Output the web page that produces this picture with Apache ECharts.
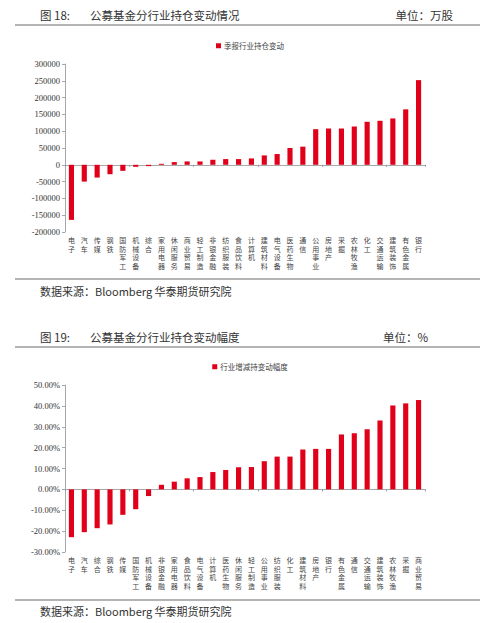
<!DOCTYPE html>
<html><head><meta charset="utf-8">
<script src="https://cdn.jsdelivr.net/npm/echarts@6/dist/echarts.min.js"></script>
<style>html,body{margin:0;padding:0;background:#fff}#c{width:500px;height:623px}</style>
</head><body><div id="c"></div>
<script>
const categories1 = ['电子','汽车','传媒','钢铁','国防军工','机械设备','综合','家用电器','休闲服务','商业贸易','轻工制造','非银金融','纺织服装','食品饮料','计算机','建筑材料','电气设备','医药生物','通信','公用事业','房地产','采掘','农林牧渔','化工','交通运输','建筑装饰','有色金属','银行'];
const values1 = [-164000,-50000,-38000,-28000,-18000,-6000,-4000,3000,8000,10000,10000,15000,17000,17000,19000,28000,32000,50000,54000,106000,108000,108000,114000,128000,131000,138000,165000,252000];
const categories2 = ['电子','汽车','综合','钢铁','传媒','国防军工','机械设备','非银金融','家用电器','食品饮料','电气设备','计算机','医药生物','休闲服务','轻工制造','公用事业','纺织服装','化工','建筑材料','房地产','银行','有色金属','通信','交通运输','建筑装饰','农林牧渔','采掘','商业贸易'];
const values2 = [-22.9,-20.5,-18.6,-16.8,-12.2,-9.5,-3.2,2.2,3.7,5.3,5.9,8.3,9.3,10.6,10.7,13.5,15.7,15.7,19.1,19.4,19.4,26.3,26.9,28.8,33.0,40.2,41.2,42.8];
const series1Name = '季报行业持仓变动';
const series2Name = '行业增减持变动幅度';

const RED = '#E1001A';
const serif = '"Liberation Serif","DejaVu Serif",serif';
const cjk = '"Noto Sans CJK SC",sans-serif';
const vert = v => v.split('').join('\n');

function xAxes(grid, cats) {
  return [
    { type:'category', gridIndex:grid, data:cats, position:'bottom',
      axisLine:{show:false,onZero:false}, axisTick:{show:false},
      axisLabel:{formatter:vert, fontFamily:cjk, fontSize:7, lineHeight:8.5, color:'#444', margin:4, interval:0, verticalAlign:'top'} },
    { type:'category', gridIndex:grid, data:cats, position:'bottom',
      axisLine:{show:true,onZero:true,lineStyle:{color:'#a8a8a8',width:1}},
      axisTick:{show:true,length:2,lineStyle:{color:'#8a9ab0'}}, axisLabel:{show:false} }
  ];
}
function yAxis(grid, min, max, interval, fmt) {
  return { type:'value', gridIndex:grid, min, max, interval,
    axisLine:{show:true,lineStyle:{color:'#a8a8a8'}},
    axisTick:{show:true,length:3,lineStyle:{color:'#a8a8a8'}},
    splitLine:{show:false},
    axisLabel:{formatter:fmt, fontFamily:serif, fontSize:8.5, color:'#333', margin:5} };
}
const chart = echarts.init(document.getElementById('c'), null, {renderer:'svg'});
const txt = (x,y,t,size,align) => ({type:'text', x, y, style:{text:t, font:`${size}px ${cjk}`, fill:'#333', textAlign:align||'left', textVerticalAlign:'middle'}});
const line = (y) => ({type:'line', shape:{x1:15,y1:y,x2:480,y2:y}, style:{stroke:'#b4b4b4', lineWidth:2}});
chart.setOption({
  animation:false,
  grid:[
    {left:65, right:75, top:64, height:168},
    {left:65, right:75, top:385, height:167}
  ],
  legend:[
    {data:[series1Name], top:37, left:'center', icon:'rect', itemWidth:5, itemHeight:5, itemGap:4,
     textStyle:{fontFamily:cjk, fontSize:7.5, color:'#444', padding:[0,0,0,-2]}},
    {data:[series2Name], top:358, left:'center', icon:'rect', itemWidth:5, itemHeight:5, itemGap:4,
     textStyle:{fontFamily:cjk, fontSize:7.5, color:'#444', padding:[0,0,0,-2]}}
  ],
  xAxis:[...xAxes(0, categories1), ...xAxes(1, categories2)],
  yAxis:[
    yAxis(0, -200000, 300000, 50000, v => String(v)),
    yAxis(1, -30, 50, 10, v => v.toFixed(2) + '%')
  ],
  series:[
    {name:series1Name, type:'bar', xAxisIndex:0, yAxisIndex:0, data:values1, barWidth:'40%', itemStyle:{color:RED}},
    {name:series2Name, type:'bar', xAxisIndex:2, yAxisIndex:1, data:values2, barWidth:'40%', itemStyle:{color:RED}}
  ],
  graphic:[
    txt(40,15,'图 18:',11.5),
    txt(90,15,'公募基金分行业持仓变动情况',11.5),
    txt(453,15,'单位：万股',11.5,'right'),
    line(25),
    line(279),
    txt(40,291,'数据来源：Bloomberg 华泰期货研究院',11),
    txt(40,337,'图 19:',11.5),
    txt(90,337,'公募基金分行业持仓变动幅度',11.5),
    txt(428,337,'单位：%',11.5,'right'),
    line(347),
    line(600),
    txt(40,611,'数据来源：Bloomberg 华泰期货研究院',11)
  ]
});
</script></body></html>
